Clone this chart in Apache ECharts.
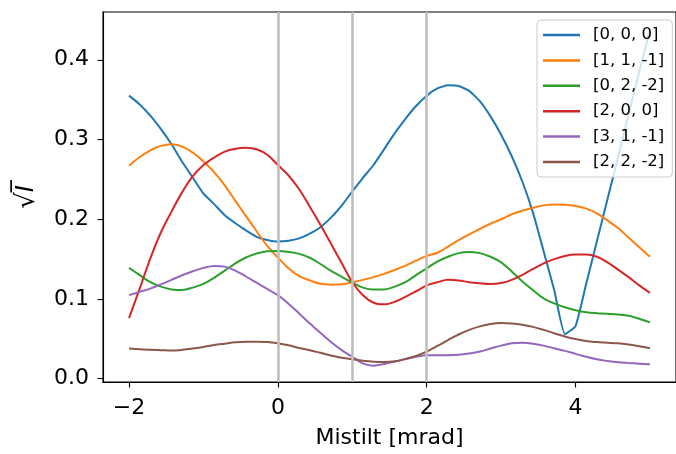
<!DOCTYPE html>
<html><head><meta charset="utf-8">
<script src="https://cdn.jsdelivr.net/npm/echarts@6/dist/echarts.min.js"></script>
<style>html,body{margin:0;padding:0;background:#fff}#c{width:676px;height:454px}</style>
</head><body><div id="c"></div>
<script>
const xs=[-2.000,-1.857,-1.714,-1.571,-1.429,-1.286,-1.143,-1.000,-0.857,-0.714,-0.571,-0.429,-0.286,-0.143,0.000,0.143,0.286,0.429,0.571,0.714,0.857,1.000,1.143,1.286,1.429,1.571,1.714,1.857,2.000,2.143,2.286,2.429,2.571,2.714,2.857,3.000,3.143,3.286,3.429,3.571,3.714,3.857,4.000,4.143,4.286,4.429,4.571,4.714,4.857,5.000];
const names=['[0, 0, 0]','[1, 1, -1]','[0, 2, -2]','[2, 0, 0]','[3, 1, -1]','[2, 2, -2]'];
const s000=[0.355,0.344,0.330,0.313,0.294,0.272,0.252,0.232,0.219,0.205,0.195,0.186,0.178,0.174,0.172,0.173,0.176,0.182,0.190,0.202,0.217,0.235,0.252,0.268,0.288,0.308,0.326,0.342,0.355,0.364,0.368,0.367,0.361,0.348,0.329,0.306,0.279,0.247,0.208,0.160,0.111,0.056,0.066,0.119,0.172,0.225,0.278,0.332,0.385,0.438];
const s11m1=[0.267,0.278,0.2865,0.292,0.294,0.291,0.2836,0.2725,0.259,0.2425,0.223,0.204,0.185,0.1665,0.152,0.1385,0.1286,0.1233,0.119,0.118,0.1184,0.121,0.124,0.1274,0.1315,0.1365,0.1418,0.148,0.154,0.158,0.1656,0.1738,0.181,0.188,0.1944,0.200,0.2063,0.2108,0.2145,0.2174,0.2186,0.2182,0.2166,0.2133,0.2075,0.1985,0.189,0.1767,0.165,0.153];
const s02m2=[0.139,0.130,0.121,0.1155,0.112,0.1113,0.1143,0.119,0.1266,0.1356,0.1447,0.152,0.157,0.160,0.1603,0.159,0.1566,0.1517,0.1439,0.1352,0.1278,0.1205,0.1143,0.1118,0.112,0.1155,0.121,0.130,0.1385,0.147,0.153,0.1575,0.159,0.1575,0.153,0.146,0.1344,0.122,0.111,0.1007,0.0945,0.0896,0.086,0.0835,0.0822,0.0814,0.0805,0.079,0.0752,0.0707];
const s200=[0.076,0.113,0.151,0.1837,0.2096,0.234,0.254,0.268,0.2774,0.2848,0.2885,0.2898,0.2877,0.2808,0.268,0.2549,0.2376,0.2158,0.1932,0.1693,0.145,0.121,0.1048,0.0953,0.0933,0.0965,0.1027,0.1097,0.117,0.121,0.124,0.1233,0.121,0.1196,0.1187,0.120,0.124,0.1303,0.1377,0.1447,0.150,0.154,0.1557,0.1557,0.1529,0.1459,0.1369,0.1274,0.1171,0.1077];
const s31m1=[0.1048,0.1089,0.113,0.1184,0.124,0.1298,0.1348,0.139,0.1414,0.1406,0.1356,0.1282,0.1204,0.1126,0.1048,0.0941,0.0818,0.0694,0.0576,0.046,0.0358,0.0275,0.0193,0.0164,0.0185,0.0214,0.0247,0.0275,0.0296,0.0296,0.0296,0.030,0.0317,0.0341,0.0378,0.0415,0.0444,0.0452,0.044,0.0415,0.0382,0.0349,0.0312,0.0275,0.0243,0.0222,0.0206,0.0197,0.0189,0.0181];
const s22m2=[0.0378,0.037,0.0362,0.0358,0.0354,0.0362,0.0378,0.0399,0.0423,0.044,0.0456,0.0464,0.0464,0.046,0.0444,0.0419,0.0386,0.0358,0.0325,0.0292,0.0263,0.0243,0.0226,0.0214,0.021,0.0218,0.0247,0.0287,0.0341,0.0411,0.0485,0.0555,0.0613,0.0657,0.0687,0.0699,0.0694,0.0678,0.065,0.0613,0.0571,0.053,0.0497,0.0472,0.046,0.0452,0.0444,0.0428,0.0407,0.0382];
const xTicks=[-2,0,2,4];
const yTicks=[0,0.1,0.2,0.3,0.4];
const vlines=[0,1,2];
const colors=['#1f77b4','#ff7f0e','#2ca02c','#d62728','#9467bd','#8c564b'];
const F='DejaVu Sans';
const allSeries=[s000,s11m1,s02m2,s200,s31m1,s22m2];

const chart=echarts.init(document.getElementById('c'),null,{renderer:'canvas'});
const series=[{
  type:'line',name:'vlines',data:[],z:1,silent:true,
  markLine:{silent:true,symbol:['none','none'],animation:false,label:{show:false},
    lineStyle:{color:'#bfbfbf',width:2.6,type:'solid'},emphasis:{disabled:true},
    data:vlines.map(v=>({xAxis:v}))}
}];
allSeries.forEach((arr,i)=>{
  series.push({type:'line',name:names[i],data:xs.map((x,k)=>[x,arr[k]]),
    symbol:'none',showSymbol:false,z:3,color:colors[i],smooth:i===0?0.15:0.35,
    lineStyle:{color:colors[i],width:2},itemStyle:{color:colors[i]},
    emphasis:{disabled:true}});
});
chart.setOption({
  animation:false,
  grid:{left:103,top:12,right:-7,bottom:66,show:true,borderColor:'#000',borderWidth:1.1,backgroundColor:'transparent'},
  xAxis:{type:'value',min:-2.35,max:5.35,
    axisLine:{show:true,onZero:false,lineStyle:{color:'#000',width:1.1}},splitLine:{show:false},
    axisTick:{show:true,customValues:xTicks,length:5.5,lineStyle:{color:'#000',width:1.1}},
    axisLabel:{customValues:xTicks,formatter:v=>v<0?'\u2212'+Math.abs(v):String(v),fontFamily:F,fontSize:22,color:'#000',margin:15},
    name:'Mistilt [mrad]',nameLocation:'middle',nameGap:45,
    nameTextStyle:{fontFamily:F,fontSize:22,color:'#000'}},
  yAxis:{type:'value',min:-0.0041,max:0.4599,
    axisLine:{show:true,onZero:false,lineStyle:{color:'#000',width:1.1}},splitLine:{show:false},
    axisTick:{show:true,customValues:yTicks,length:5.5,lineStyle:{color:'#000',width:1.1}},
    axisLabel:{customValues:yTicks,formatter:v=>v.toFixed(1),fontFamily:F,fontSize:22,color:'#000',margin:14},
    name:'{r|\u221A}{i|I\u0305}',nameLocation:'middle',nameRotate:90,nameGap:63,
    nameTextStyle:{fontFamily:F,fontSize:24,color:'#000',rich:{r:{fontFamily:F,fontSize:26,color:'#000'},i:{fontFamily:F,fontSize:24,fontStyle:'italic',color:'#000'}}}},
  legend:{left:537,top:20,orient:'vertical',itemWidth:37,itemHeight:2.5,icon:'rect',itemGap:7.4,
    padding:[6,8,6,6],borderColor:'#cccccc',borderWidth:1,borderRadius:4,
    backgroundColor:'rgba(255,255,255,0.8)',selectedMode:false,
    textStyle:{fontFamily:F,fontSize:16.5,color:'#000',lineHeight:18,padding:[0,0,0,8]},
    data:names},
  series:series
});
</script></body></html>
